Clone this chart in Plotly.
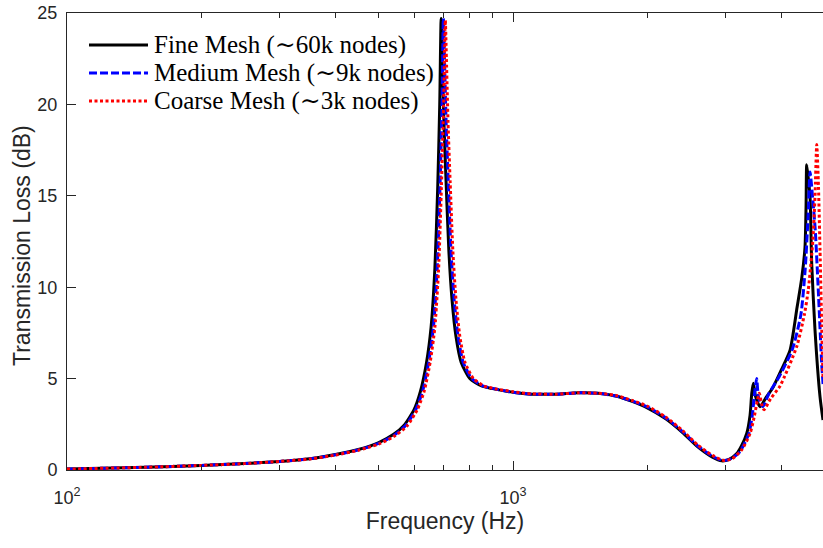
import plotly.graph_objects as go

# Fine mesh (~60k nodes)
fine_freq = [100, 150, 200, 250, 300, 350, 400, 450, 500, 540, 570, 600, 620, 640, 655, 668, 678, 685,
             690, 694, 700, 708, 718, 730, 745, 765, 800, 850, 900, 1000, 1100, 1250, 1400, 1550, 1700,
             1850, 2000, 2200, 2400, 2600, 2800, 2937, 3050, 3175, 3250, 3342, 3400, 3430, 3458, 3500,
             3579, 3700, 3835, 4000, 4180, 4334, 4440, 4515, 4540, 4555, 4600, 4634, 4674, 4754, 4879, 4955]
fine_tl = [0.05, 0.15, 0.25, 0.35, 0.47, 0.62, 0.85, 1.12, 1.5, 1.95, 2.45, 3.3, 4.3, 5.9, 7.8, 11.0, 15.5, 20.0,
           24.7, 22.5, 19.0, 15.7, 12.0, 9.3, 7.3, 5.9, 5.0, 4.6, 4.45, 4.25, 4.15, 4.15, 4.22, 4.2, 4.05,
           3.75, 3.4, 2.8, 2.05, 1.25, 0.7, 0.5, 0.58, 0.9, 1.3, 2.0, 3.0, 4.2, 4.75, 4.0,
           3.46, 4.0, 4.56, 5.5, 6.56, 8.9, 10.5, 12.2, 14.5, 16.7, 15.8, 14.95, 11.3, 7.66, 4.0, 2.73]

# Medium mesh (~9k nodes)
medium_freq = [100, 150, 200, 250, 300, 350, 400, 450, 500, 540, 575, 605, 627, 647, 663, 676, 686, 693,
               698, 702, 708, 716, 726, 738, 753, 773, 808, 855, 905, 1000, 1100, 1250, 1400, 1550, 1700,
               1850, 2000, 2200, 2400, 2600, 2800, 2950, 3070, 3200, 3280, 3380, 3440, 3480, 3518, 3550,
               3631, 3750, 3950, 4230, 4420, 4520, 4590, 4634, 4700, 4761, 4843, 4920, 4960]
medium_tl = [0.05, 0.15, 0.25, 0.35, 0.47, 0.61, 0.83, 1.1, 1.45, 1.88, 2.45, 3.3, 4.3, 5.9, 7.8, 11.0, 15.5, 20.0,
             24.7, 22.5, 19.0, 15.7, 12.0, 9.3, 7.3, 5.9, 5.0, 4.6, 4.45, 4.25, 4.15, 4.15, 4.22, 4.2, 4.05,
             3.77, 3.45, 2.85, 2.1, 1.3, 0.75, 0.52, 0.6, 0.9, 1.3, 2.0, 3.0, 4.2, 5.0, 4.0,
             3.46, 4.2, 5.1, 6.6, 8.5, 11.0, 14.0, 16.3, 14.8, 13.1, 9.5, 5.85, 4.6]

# Coarse mesh (~3k nodes)
coarse_freq = [100, 150, 200, 250, 300, 350, 400, 450, 500, 540, 578, 610, 632, 652, 668, 681, 691, 699,
               705, 709, 715, 723, 733, 745, 760, 780, 815, 860, 910, 1000, 1100, 1250, 1400, 1550, 1700,
               1850, 2000, 2200, 2400, 2600, 2800, 2970, 3100, 3256, 3400, 3480, 3530, 3566, 3610,
               3655, 3780, 3970, 4326, 4500, 4592, 4700, 4754, 4797, 4840, 4879, 4920, 4955]
coarse_tl = [0.05, 0.15, 0.25, 0.35, 0.47, 0.6, 0.82, 1.08, 1.42, 1.83, 2.4, 3.3, 4.3, 5.9, 7.8, 11.0, 15.5, 20.0,
             24.6, 22.5, 19.0, 15.7, 12.0, 9.3, 7.3, 5.9, 5.0, 4.6, 4.45, 4.28, 4.17, 4.15, 4.22, 4.2, 4.08,
             3.8, 3.5, 2.9, 2.15, 1.35, 0.8, 0.52, 0.62, 1.1, 2.0, 3.0, 3.8, 4.2, 3.6,
             3.3, 3.9, 4.6, 6.75, 8.5, 9.85, 12.5, 14.95, 17.8, 15.5, 12.0, 8.0, 5.0]

series = [
    ("Fine Mesh (∼60k nodes)", fine_freq, fine_tl, "#000000", "solid"),
    ("Medium Mesh (∼9k nodes)", medium_freq, medium_tl, "#0000FF", "8px,3px"),
    ("Coarse Mesh (∼3k nodes)", coarse_freq, coarse_tl, "#FF0000", "3px,2.5px"),
]

x_major = [100, 1000]
x_major_text = ["10<sup>2</sup>", "10<sup>3</sup>"]
x_minor = [200, 300, 400, 500, 600, 700, 800, 900, 2000, 3000, 4000]
y_ticks = [0, 5, 10, 15, 20, 25]

W, H = 823, 548
ML, MR, MT, MB = 67, 0, 13, 78
pw, ph = W - ML - MR, H - MT - MB


def px_x(x):
    return (x - ML) / pw


def px_y(y):
    return 1 - (y - MT) / ph


fig = go.Figure()
for name, f, tl, color, dash in series:
    fig.add_trace(go.Scatter(x=f, y=tl, mode="lines", name=name, showlegend=False,
                             line=dict(color=color, width=3, dash=dash, shape="spline", smoothing=0.6)))

# hand-built legend (MATLAB style, long line samples, serif text)
row_y = [45, 73, 101]
for (name, f, tl, color, dash), ry in zip(series, row_y):
    fig.add_shape(type="line", xref="paper", yref="paper",
                  x0=px_x(89), x1=px_x(148), y0=px_y(ry), y1=px_y(ry),
                  line=dict(color=color, width=3, dash=dash))
    fig.add_annotation(text=name, xref="paper", yref="paper", x=px_x(152), y=px_y(ry),
                       xanchor="left", yanchor="middle", showarrow=False,
                       font=dict(family="Liberation Serif, DejaVu Serif, serif", size=25, color="#000"))

axis_font = dict(family="Liberation Sans, Arial, sans-serif", size=18, color="#262626")
title_font = dict(family="Liberation Sans, Arial, sans-serif", size=23, color="#262626")

# y title as an annotation so it can sit close to the tick labels
fig.add_annotation(text="Transmission Loss (dB)", xref="paper", yref="paper",
                   x=px_x(22), y=px_y(246), xanchor="center", yanchor="middle",
                   textangle=-90, showarrow=False, font=title_font)

fig.update_xaxes(
    type="log", range=[2, 3.695], automargin=False,
    tickvals=x_major, ticktext=x_major_text,
    ticks="inside", ticklen=9, tickcolor="#262626", ticklabelstandoff=11,
    ticklabeloverflow="allow",
    minor=dict(tickvals=x_minor, ticks="inside", ticklen=5, tickcolor="#262626"),
    showline=True, linecolor="#262626", linewidth=1, mirror="ticks",
    showgrid=False, zeroline=False, tickfont=axis_font,
    title=dict(text="Frequency (Hz)", font=title_font, standoff=4),
)
fig.update_yaxes(
    range=[0, 25], tickvals=y_ticks, automargin=False,
    ticks="inside", ticklen=9, tickcolor="#262626", ticklabelstandoff=5,
    ticklabeloverflow="allow",
    showline=True, linecolor="#262626", linewidth=1, mirror=False,
    showgrid=False, zeroline=False, tickfont=axis_font,
)

fig.update_layout(
    width=W, height=H,
    margin=dict(l=ML, r=MR, t=MT, b=MB),
    paper_bgcolor="white", plot_bgcolor="white",
    showlegend=False,
)

# drop the default body margin so the figure fills the window exactly
fig.write_html("out.html", config={"displayModeBar": False},
               post_script="document.body.style.margin='0';document.body.style.overflow='hidden';")
